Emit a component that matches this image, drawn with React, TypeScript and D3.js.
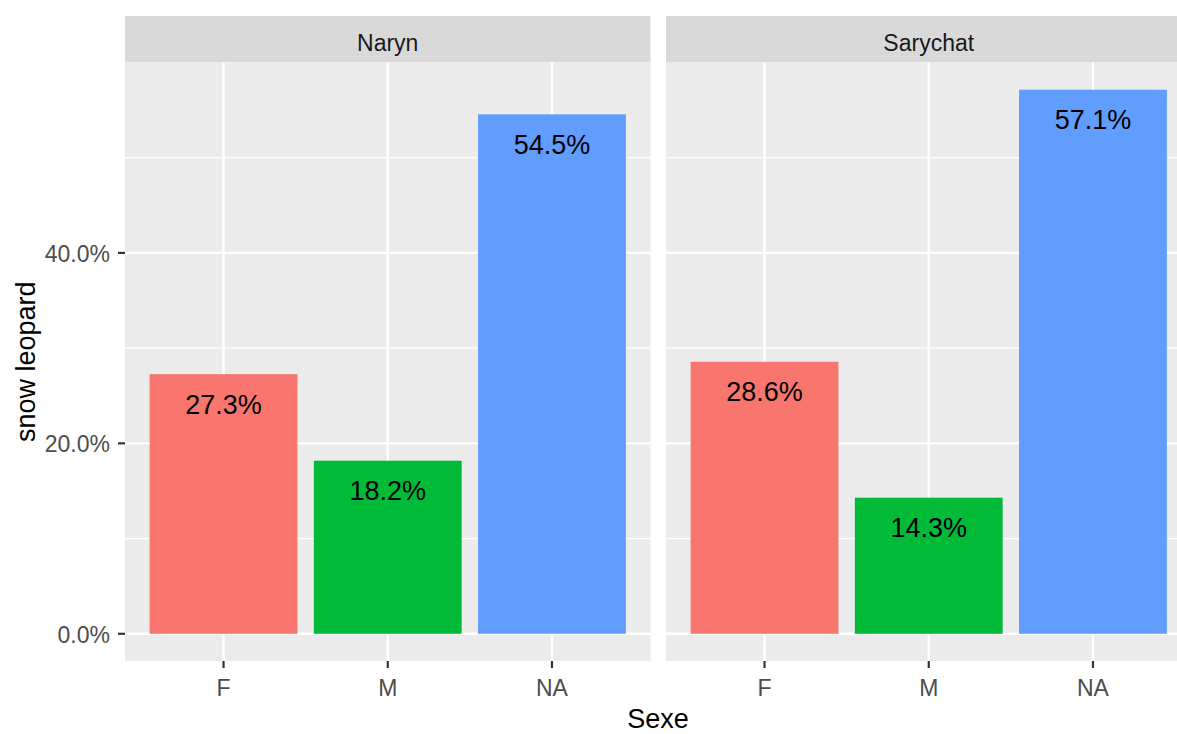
import React from "react";
import * as d3 from "d3";

const facets = ["Naryn", "Sarychat"];
const categories = ["F", "M", "NA"];
const narynValues = [27.27, 18.18, 54.55];
const sarychatValues = [28.57, 14.29, 57.14];
const labelsNaryn = ["27.3%", "18.2%", "54.5%"];
const labelsSarychat = ["28.6%", "14.3%", "57.1%"];
const colors = ["#F8766D", "#00BA38", "#619CFF"];
const majorTicks = [0, 20, 40];
const minorTicks = [10, 30, 50];

const W = 1177;
const H = 734;
const panelTop = 62.5;
const panelBottom = 661;
const stripTop = 16;
const panelW = 525.5;
const panelLefts = [125, 666];
const FONT = "'Liberation Sans', Arial, sans-serif";

export default function App() {
  const maxV = d3.max([...narynValues, ...sarychatValues]) as number;
  const exp = maxV * 0.05;
  const y = d3.scaleLinear().domain([-exp, maxV + exp]).range([panelBottom, panelTop]);
  const seriesList = [narynValues, sarychatValues];
  const labelList = [labelsNaryn, labelsSarychat];

  return (
    <svg width={W} height={H} style={{ position: "absolute", left: 0, top: 0, background: "#fff" }} fontFamily={FONT}>
      {facets.map((f, fi) => {
        const x0 = panelLefts[fi];
        const x = d3.scaleBand<string>().domain(categories).range([x0, x0 + panelW]).paddingInner(0.1).paddingOuter(0.15);
        const vals = seriesList[fi];
        const labs = labelList[fi];
        return (
          <g key={f}>
            <rect x={x0} y={stripTop} width={panelW} height={panelTop - stripTop} fill="#D9D9D9" />
            <text x={x0 + panelW / 2} y={stripTop + 35} textAnchor="middle" fontSize={23} fill="#1A1A1A">{f}</text>
            <rect x={x0} y={panelTop} width={panelW} height={panelBottom - panelTop} fill="#EBEBEB" />
            {minorTicks.map((t) => (
              <line key={"mi" + t} x1={x0} x2={x0 + panelW} y1={y(t)} y2={y(t)} stroke="#fff" strokeWidth={1.2} />
            ))}
            {majorTicks.map((t) => (
              <line key={"ma" + t} x1={x0} x2={x0 + panelW} y1={y(t)} y2={y(t)} stroke="#fff" strokeWidth={2.4} />
            ))}
            {categories.map((c) => {
              const cx = (x(c) as number) + x.bandwidth() / 2;
              return (
                <g key={"v" + c}>
                  <line x1={cx} x2={cx} y1={panelTop} y2={panelBottom} stroke="#fff" strokeWidth={2.4} />
                  <line x1={cx} x2={cx} y1={panelBottom} y2={panelBottom + 7} stroke="#333" strokeWidth={2.2} />
                  <text x={cx} y={696} textAnchor="middle" fontSize={23} fill="#4D4D4D">{c}</text>
                </g>
              );
            })}
            {categories.map((c, i) => (
              <rect key={"b" + c} x={x(c)} y={y(vals[i])} width={x.bandwidth()} height={y(0) - y(vals[i])} fill={colors[i]} />
            ))}
            {categories.map((c, i) => (
              <text key={"l" + c} x={(x(c) as number) + x.bandwidth() / 2} y={y(vals[i]) + 39.5} textAnchor="middle" fontSize={27} fill="#000">{labs[i]}</text>
            ))}
          </g>
        );
      })}
      {majorTicks.map((t) => (
        <g key={"yt" + t}>
          <line x1={118} x2={125} y1={y(t)} y2={y(t)} stroke="#333" strokeWidth={2.2} />
          <text x={110} y={y(t) + 9} textAnchor="end" fontSize={23} fill="#4D4D4D">{d3.format(".1f")(t) + "%"}</text>
        </g>
      ))}
      <text x={658} y={728} textAnchor="middle" fontSize={27} fill="#000">Sexe</text>
      <text transform={`translate(35,${(panelTop + panelBottom) / 2}) rotate(-90)`} textAnchor="middle" fontSize={27} fill="#000">snow leopard</text>
    </svg>
  );
}
